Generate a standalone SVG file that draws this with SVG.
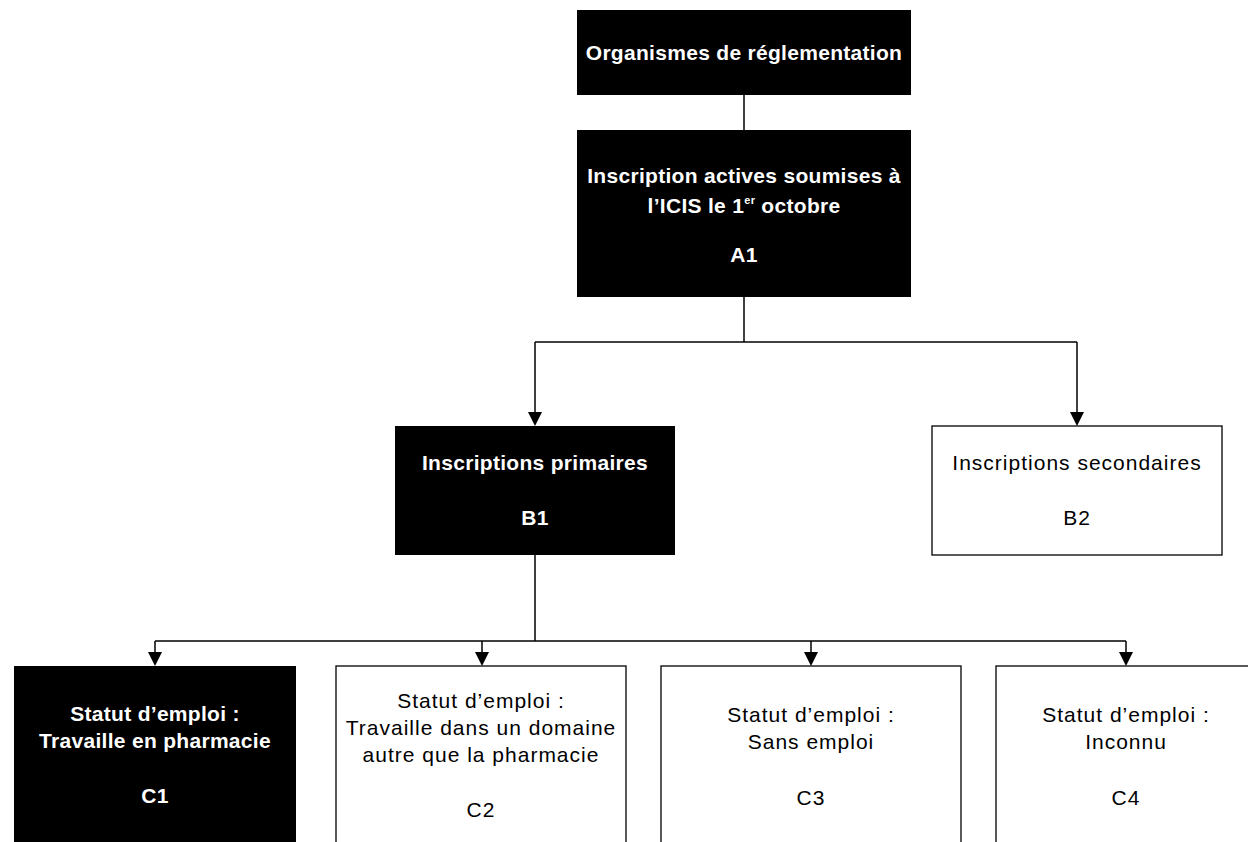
<svg xmlns="http://www.w3.org/2000/svg" width="1248" height="842" viewBox="0 0 1248 842">
<style>
  .dark { fill: #000; }
  .light { fill: #fff; stroke: #000; stroke-width: 1.3; }
  .tb { font-family: "Liberation Sans", Arial, sans-serif; font-size: 21px; font-weight: bold; fill: #fff; text-anchor: middle; letter-spacing: 0.3px; }
  .tr { font-family: "Liberation Sans", Arial, sans-serif; font-size: 21px; fill: #000; text-anchor: middle; letter-spacing: 1px; }
  .conn { fill: none; stroke: #000; stroke-width: 1.5; }
</style>
<defs>
  <marker id="arrow" markerUnits="userSpaceOnUse" markerWidth="16" markerHeight="16" viewBox="0 0 14 14" refX="7" refY="14" orient="auto-start-reverse">
    <path d="M0,0 L14,0 L7,14 Z" fill="#000"/>
  </marker>
</defs>
<rect width="1248" height="842" fill="#fff"/>

<g id="connectors">
  <path class="conn" d="M744,95 V130"/>
  <path class="conn" d="M744,297 V342"/>
  <path class="conn" d="M535,342 H1077"/>
  <path class="conn" d="M535,342 V412"/>
  <path class="conn" d="M1077,342 V412"/>
  <path d="M528,412 L542,412 L535,426 Z" fill="#000"/>
  <path d="M1070,412 L1084,412 L1077,426 Z" fill="#000"/>
  <path class="conn" d="M535,555 V641"/>
  <path class="conn" d="M155,641 H1126"/>
  <path class="conn" d="M155,641 V652"/>
  <path class="conn" d="M482,641 V652"/>
  <path class="conn" d="M811,641 V652"/>
  <path class="conn" d="M1126,641 V652"/>
  <path d="M148,652 L162,652 L155,666 Z" fill="#000"/>
  <path d="M475,652 L489,652 L482,666 Z" fill="#000"/>
  <path d="M804,652 L818,652 L811,666 Z" fill="#000"/>
  <path d="M1119,652 L1133,652 L1126,666 Z" fill="#000"/>
</g>

<g id="org">
  <rect class="dark" x="577" y="10" width="334" height="85"/>
  <text class="tb" x="744" y="60">Organismes de réglementation</text>
</g>

<g id="A1">
  <rect class="dark" x="577" y="130" width="334" height="167"/>
  <text class="tb" x="744" y="183">Inscription actives soumises à</text>
  <text class="tb" x="744" y="213">l’ICIS le 1<tspan font-size="11" dy="-9">er</tspan><tspan dy="9"> octobre</tspan></text>
  <text class="tb" x="744" y="262">A1</text>
</g>

<g id="B1">
  <rect class="dark" x="395" y="426" width="280" height="129"/>
  <text class="tb" x="535" y="470">Inscriptions primaires</text>
  <text class="tb" x="535" y="525">B1</text>
</g>

<g id="B2">
  <rect class="light" x="932" y="426" width="290" height="129"/>
  <text class="tr" x="1077" y="470">Inscriptions secondaires</text>
  <text class="tr" x="1077" y="525">B2</text>
</g>

<g id="C1">
  <rect class="dark" x="14" y="666" width="282" height="190"/>
  <text class="tb" x="155" y="721">Statut d’emploi :</text>
  <text class="tb" x="155" y="748">Travaille en pharmacie</text>
  <text class="tb" x="155" y="803">C1</text>
</g>

<g id="C2">
  <rect class="light" x="336" y="666" width="290" height="190"/>
  <text class="tr" x="481" y="708">Statut d’emploi :</text>
  <text class="tr" x="481" y="735">Travaille dans un domaine</text>
  <text class="tr" x="481" y="762">autre que la pharmacie</text>
  <text class="tr" x="481" y="817">C2</text>
</g>

<g id="C3">
  <rect class="light" x="661" y="666" width="300" height="190"/>
  <text class="tr" x="811" y="722">Statut d’emploi :</text>
  <text class="tr" x="811" y="749">Sans emploi</text>
  <text class="tr" x="811" y="805">C3</text>
</g>

<g id="C4">
  <rect class="light" x="996" y="666" width="270" height="190"/>
  <text class="tr" x="1126" y="722">Statut d’emploi :</text>
  <text class="tr" x="1126" y="749">Inconnu</text>
  <text class="tr" x="1126" y="805">C4</text>
</g>
</svg>
